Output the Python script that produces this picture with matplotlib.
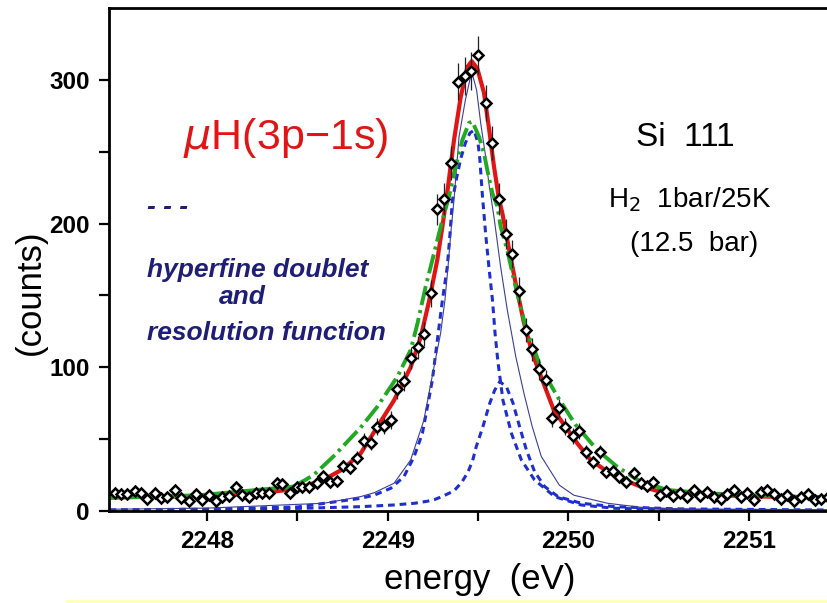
import numpy as np
import matplotlib
matplotlib.use('Agg')
import matplotlib.pyplot as plt
from matplotlib.patches import Rectangle

plt.rcParams['mathtext.fontset'] = 'dejavusans'

# data points (energy in eV, counts)
energy = [2247.489, 2247.522, 2247.559, 2247.600, 2247.633, 2247.670, 2247.710, 2247.744,
          2247.780, 2247.821, 2247.858, 2247.900, 2247.937, 2247.972, 2248.011, 2248.048,
          2248.085, 2248.122, 2248.159, 2248.196, 2248.232, 2248.270, 2248.307, 2248.343,
          2248.386, 2248.417, 2248.459, 2248.496, 2248.528, 2248.565, 2248.607, 2248.644,
          2248.681, 2248.718, 2248.755, 2248.791, 2248.832, 2248.869, 2248.906, 2248.939,
          2248.980, 2249.017, 2249.054, 2249.090, 2249.127, 2249.168, 2249.201, 2249.238,
          2249.275, 2249.312, 2249.349, 2249.389, 2249.426, 2249.463, 2249.500, 2249.542,
          2249.579, 2249.614, 2249.653, 2249.690, 2249.727, 2249.767, 2249.800, 2249.836,
          2249.878, 2249.909, 2249.946, 2249.983, 2250.026, 2250.057, 2250.100, 2250.136,
          2250.173, 2250.210, 2250.247, 2250.283, 2250.320, 2250.361, 2250.400, 2250.435,
          2250.468, 2250.509, 2250.542, 2250.579, 2250.616, 2250.656, 2250.695, 2250.730,
          2250.769, 2250.806, 2250.843, 2250.880, 2250.916, 2250.953, 2250.990, 2251.027,
          2251.064, 2251.101, 2251.138, 2251.175, 2251.212, 2251.248, 2251.289, 2251.326,
          2251.363, 2251.400, 2251.437]
counts = [12.8, 11.8, 11.6, 13.7, 12.8, 8.1, 12.8, 9.3,
          10.0, 14.6, 9.3, 7.0, 11.6, 7.7, 11.1, 6.8,
          10.0, 10.6, 16.5, 11.1, 9.5, 12.3, 12.8, 12.3,
          19.7, 18.6, 12.3, 16.5, 16.5, 16.5, 19.3, 24.4,
          20.4, 21.1, 31.5, 29.7, 37.1, 48.7, 47.5, 58.7,
          59.2, 63.3, 84.9, 90.5, 106.3, 113.9, 123.2, 151.5,
          210.0, 217.0, 242.0, 298.8, 302.7, 306.2, 317.3, 283.7,
          255.9, 217.0, 192.8, 178.8, 153.3, 126.0, 112.5, 98.6,
          91.2, 64.5, 71.5, 58.7, 52.0, 55.8, 40.8, 33.9,
          41.0, 26.9, 27.8, 23.7, 20.0, 26.7, 19.7, 17.6,
          20.4, 11.1, 14.1, 10.4, 12.8, 9.5, 14.6, 10.4,
          13.4, 10.0, 8.4, 11.8, 14.6, 10.0, 12.3, 7.7,
          13.4, 14.6, 11.8, 8.1, 11.1, 7.2, 9.5, 11.6,
          7.7, 8.1, 9.5]

# red fit
red_x = [2247.46, 2247.80, 2248.10, 2248.30, 2248.50, 2248.65, 2248.75, 2248.85, 2248.94,
         2249.035, 2249.127, 2249.183, 2249.229, 2249.275, 2249.303, 2249.33, 2249.367,
         2249.404, 2249.441, 2249.465, 2249.496, 2249.533, 2249.56, 2249.588, 2249.616,
         2249.635, 2249.672, 2249.709, 2249.754, 2249.80, 2249.847, 2249.92, 2250.05,
         2250.123, 2250.216, 2250.308, 2250.40, 2250.49, 2250.58, 2250.80, 2251.10, 2251.44]
red_y = [10, 10, 11, 12.5, 15.5, 22, 29, 40, 58,
         77, 100, 121, 146, 175, 198, 222, 258,
         288, 309, 313, 308, 291, 267, 240, 217,
         207, 182, 158, 131, 110, 94, 70, 47,
         35.5, 27.4, 21.6, 17, 14.1, 12.8, 11, 10, 9.5]

# green dash-dot fit
green_x = [2247.46, 2247.96, 2248.48, 2248.59, 2248.70, 2248.85, 2248.943, 2249.054, 2249.127,
           2249.164, 2249.21, 2249.256, 2249.303, 2249.34, 2249.367, 2249.413, 2249.45,
           2249.469, 2249.505, 2249.533, 2249.555, 2249.58, 2249.607, 2249.625, 2249.662,
           2249.699, 2249.736, 2249.773, 2249.819, 2249.847, 2249.94, 2250.04, 2250.16,
           2250.27, 2250.40, 2250.55, 2250.77, 2250.99, 2251.25]
green_y = [9, 11, 17, 25, 38, 58, 72.6, 93.5, 112,
           130, 156, 179, 202.5, 219, 235, 258, 270,
           271, 260.5, 249, 235, 221, 212, 198, 181.6,
           160.7, 142, 123.7, 109.7, 100, 79.5, 60, 42.4,
           30.8, 20.4, 14.6, 12.3, 11.1, 10]

# hyperfine doublet, component 1 (dashed)
hf1_x = [2247.46, 2248.00, 2248.50, 2248.85, 2248.925, 2249.017, 2249.09, 2249.146, 2249.192,
         2249.22, 2249.247, 2249.275, 2249.303, 2249.33, 2249.345, 2249.358, 2249.382,
         2249.404, 2249.43, 2249.455, 2249.478, 2249.50, 2249.51, 2249.524, 2249.542,
         2249.56, 2249.58, 2249.594, 2249.61, 2249.638, 2249.685, 2249.74, 2249.813,
         2249.924, 2250.07, 2250.256, 2250.60, 2251.44]
hf1_y = [0.8, 1.3, 2.8, 8.8, 11, 15.8, 23.9, 37.8, 54,
         72.6, 91, 119, 146.8, 170, 193, 216, 232,
         245, 256, 263, 265, 256, 245, 220, 193,
         170, 146.8, 124, 104, 77, 54, 35.5, 21.6,
         10, 4.2, 1.9, 0.8, 0.2]

# hyperfine doublet, component 2 (dashed)
hf2_x = [2247.46, 2248.00, 2248.50, 2248.85, 2249.035, 2249.15, 2249.22, 2249.26, 2249.30,
         2249.367, 2249.41, 2249.444, 2249.47, 2249.49, 2249.527, 2249.565, 2249.592,
         2249.62, 2249.657, 2249.694, 2249.73, 2249.768, 2249.813, 2249.869, 2249.943,
         2250.07, 2250.256, 2250.60, 2251.44]
hf2_y = [0.3, 0.7, 1.8, 3, 4.2, 5.4, 6.8, 8, 10,
         14, 20, 27, 35, 44.7, 58.7, 75, 84,
         90, 86.5, 75, 58.7, 42.4, 27.4, 17, 10,
         5.4, 3, 1.5, 0.7]

# thin solid line
thin_x = [2247.46, 2248.00, 2248.648, 2248.85, 2248.925, 2249.035, 2249.127, 2249.20, 2249.256,
          2249.293, 2249.317, 2249.334, 2249.349, 2249.367, 2249.395, 2249.43, 2249.465,
          2249.492, 2249.515, 2249.542, 2249.56, 2249.588, 2249.625, 2249.662, 2249.709,
          2249.754, 2249.80, 2249.85, 2249.95, 2250.03, 2250.216, 2250.40, 2250.77, 2251.44]
thin_y = [1.2, 2, 5.4, 10, 12.7, 19.3, 35.5, 63, 100,
          123.7, 146.8, 170, 193, 216.4, 260.5, 286, 305.7,
          293, 269.8, 246.6, 228, 204.8, 170, 139.9, 107.4,
          82, 58.7, 38, 18, 11, 5.4, 2.6, 0.7, 0.3]

xticks = [2248, 2249, 2250, 2251]
yticks = [0, 100, 200, 300]

W, H = 828, 603
fig = plt.figure(figsize=(W / 100, H / 100), dpi=100)
ax = fig.add_axes([109 / W, 1 - 511 / H, (W - 109) / W, (511 - 8) / H])

ax.plot(hf1_x, hf1_y, color='#1f2fcf', lw=2.2, ls=(0, (2.2, 1.6)))
ax.plot(hf2_x, hf2_y, color='#1f2fcf', lw=2.2, ls=(0, (2.2, 1.6)))
ax.plot(thin_x, thin_y, color='#3c3c9c', lw=0.8)
ax.plot(red_x, red_y, color='#e01515', lw=3.0)

gx = np.array(green_x)
gy = np.array(green_y)
mid = (gx >= 2248.48) & (gx <= 2250.40)
ax.plot(gx[gx <= 2248.48], gy[gx <= 2248.48], color='#22a822', lw=2.8)
ax.plot(gx[mid], gy[mid], color='#22a822', lw=2.8, ls=(0, (5, 1.3, 0.8, 1.3)))
ax.plot(gx[gx >= 2250.40], gy[gx >= 2250.40], color='#22a822', lw=2.8)

c = np.array(counts)
ax.errorbar(energy, c, yerr=0.75 * np.sqrt(c), fmt='none', ecolor='#222222', elinewidth=0.9)
ax.plot(energy, c, 'D', ms=5.2, mfc='white', mec='black', mew=1.8)

ax.set_xlim(2247.4576, 2251.437)
ax.set_ylim(0, 350)
ax.set_xticks(xticks)
ax.set_xticks([2248.5, 2249.5, 2250.5], minor=True)
ax.set_yticks(yticks)
ax.set_yticks([50, 150, 250], minor=True)
ax.set_xticklabels([str(t) for t in xticks])
ax.set_yticklabels([str(t) for t in yticks])
for lab in ax.get_xticklabels() + ax.get_yticklabels():
    lab.set_family('Liberation Sans')
    lab.set_weight('bold')
    lab.set_fontsize(17.5)
ax.tick_params(which='both', direction='out', length=7, width=1.6, pad=7)
ax.spines['right'].set_visible(False)
for s in ['left', 'top', 'bottom']:
    ax.spines[s].set_linewidth(2.0)

def px(x, y):
    return x / W, 1 - y / H

fig.text(*px(480, 580), 'energy  (eV)', family='Liberation Sans', fontsize=25,
         ha='center', va='center')
fig.text(*px(30, 292), '(counts)', family='Liberation Sans', fontsize=25,
         ha='center', va='center', rotation=90)

fig.text(*px(286, 138), '$\\mu$H(3p\u22121s)', family='Liberation Sans', fontsize=31,
         color='#e01515', ha='center', va='center')
fig.text(*px(685, 137), 'Si  111', family='Liberation Sans', fontsize=24,
         ha='center', va='center')
fig.text(*px(690, 200), 'H$_2$  1bar/25K', family='Liberation Sans', fontsize=20,
         ha='center', va='center')
fig.text(*px(694, 244), '(12.5  bar)', family='Liberation Sans', fontsize=20,
         ha='center', va='center')

navy = '#1e1e78'
fig.text(*px(147, 207), '- - -', family='Liberation Sans', fontsize=19, weight='bold',
         style='italic', color=navy, ha='left', va='center')
fig.text(*px(147, 270), 'hyperfine doublet', family='Liberation Sans', fontsize=19,
         weight='bold', style='italic', color=navy, ha='left', va='center')
fig.text(*px(242, 297), 'and', family='Liberation Sans', fontsize=19,
         weight='bold', style='italic', color=navy, ha='center', va='center')
fig.text(*px(147, 333), 'resolution function', family='Liberation Sans', fontsize=19,
         weight='bold', style='italic', color=navy, ha='left', va='center')

fig.patches.append(Rectangle((66 / W, 0), 1, 3 / H, transform=fig.transFigure,
                             color='#ffffc0', zorder=0))

fig.savefig('out.png', dpi=100)
